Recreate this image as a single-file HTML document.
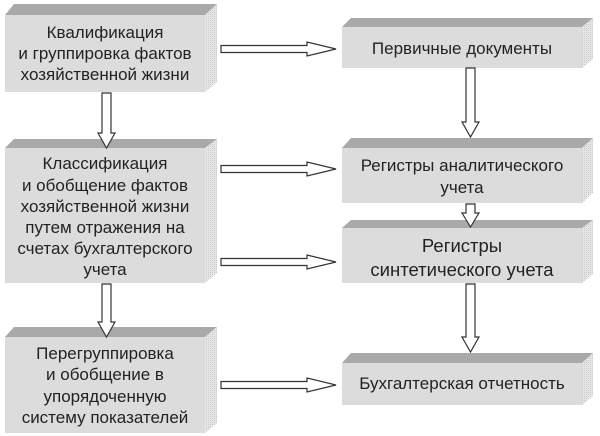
<!DOCTYPE html>
<html><head><meta charset="utf-8"><style>
body{margin:0;background:#fff;}
svg{display:block;}
text{font-family:"Liberation Sans",sans-serif;fill:#222;text-anchor:middle;}
</style></head><body>
<svg width="600" height="436" viewBox="0 0 600 436" xmlns="http://www.w3.org/2000/svg">
<defs>
<pattern id="dots" width="2" height="2" patternUnits="userSpaceOnUse">
<rect width="2" height="2" fill="#e6e6e6"/><rect width="1" height="1" fill="#c8c8c8"/>
</pattern>
</defs>
<g id="boxes">
<polygon points="5,15 14,4 217,4 205,15" fill="#a9a9a9"/>
<polygon points="205,15 217,4 217,82 205,92" fill="url(#dots)"/>
<rect x="5" y="15" width="200" height="77" fill="#dcdcdc"/>
<polygon points="5,148 14,139 217,139 205,148" fill="#a9a9a9"/>
<polygon points="205,148 217,139 217,273 205,283" fill="url(#dots)"/>
<rect x="5" y="148" width="200" height="135" fill="#dcdcdc"/>
<polygon points="5,337 14,327 217,327 205,337" fill="#a9a9a9"/>
<polygon points="205,337 217,327 217,423 205,433" fill="url(#dots)"/>
<rect x="5" y="337" width="200" height="96" fill="#dcdcdc"/>
<polygon points="342,27 351,18 593,18 582,27" fill="#a9a9a9"/>
<polygon points="582,27 593,18 593,59 582,68" fill="url(#dots)"/>
<rect x="342" y="27" width="240" height="41" fill="#dcdcdc"/>
<polygon points="342,148 351,138 593,138 582,148" fill="#a9a9a9"/>
<polygon points="582,148 593,138 593,193 582,203" fill="url(#dots)"/>
<rect x="342" y="148" width="240" height="55" fill="#dcdcdc"/>
<polygon points="342,228 351,220 593,220 582,228" fill="#a9a9a9"/>
<polygon points="582,228 593,220 593,274 582,283" fill="url(#dots)"/>
<rect x="342" y="228" width="240" height="55" fill="#dcdcdc"/>
<polygon points="342,363 351,353 593,353 582,363" fill="#a9a9a9"/>
<polygon points="582,363 593,353 593,396 582,405" fill="url(#dots)"/>
<rect x="342" y="363" width="240" height="42" fill="#dcdcdc"/>
</g>
<g fill="#fff" stroke="#333" stroke-width="1.2">
<polygon points="221,45.5 307,45.5 307,42 336,49 307,56 307,52.5 221,52.5"/>
<polygon points="221,165.5 307,165.5 307,162 336,169 307,176 307,172.5 221,172.5"/>
<polygon points="221,258.5 307,258.5 307,255 336,262 307,269 307,265.5 221,265.5"/>
<polygon points="221,381.5 307,381.5 307,378 336,385 307,392 307,388.5 221,388.5"/>
<polygon points="102,93 111,93 111,133 115,133 106.5,148 98,133 102,133"/>
<polygon points="102,284 111,284 111,322 115,322 106.5,337 98,322 102,322"/>
<polygon points="466,68 475,68 475,122 479,122 470.5,137 462,122 466,122"/>
<polygon points="466,204 475,204 475,213 479,213 470.5,227 462,213 466,213"/>
<polygon points="466,284 475,284 475,337 479,337 470.5,352 462,337 466,337"/>
</g>
<g font-size="17">
<text x="105" y="38">Квалификация</text>
<text x="105" y="59">и группировка фактов</text>
<text x="105" y="80">хозяйственной жизни</text>
<text x="105" y="169">Классификация</text>
<text x="105" y="191">и обобщение фактов</text>
<text x="105" y="212">хозяйственной жизни</text>
<text x="105" y="233">путем отражения  на</text>
<text x="105" y="254">счетах бухгалтерского</text>
<text x="105" y="275">учета</text>
<text x="105" y="359">Перегруппировка</text>
<text x="105" y="380">и обобщение в</text>
<text x="105" y="402">упорядоченную</text>
<text x="105" y="423">систему показателей</text>
<text x="462" y="54">Первичные документы</text>
<text x="462" y="171">Регистры аналитического</text>
<text x="462" y="193">учета</text>
<text x="462" y="389">Бухгалтерская отчетность</text>
</g>
<g font-size="18.5">
<text x="462" y="252">Регистры</text>
<text x="462" y="276">синтетического учета</text>
</g>
</svg>
</body></html>
